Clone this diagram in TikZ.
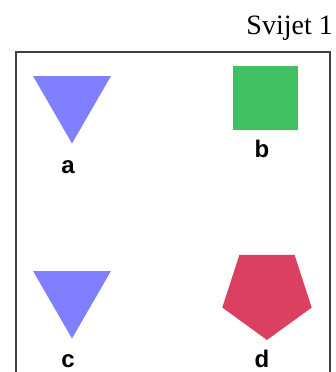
\documentclass[tikz,border=0pt]{standalone}
\usepackage{fontspec}
\setmainfont{Liberation Serif}
\newfontfamily\labelfont{Liberation Sans}
\usetikzlibrary{shapes.geometric}

\definecolor{triblue}{RGB}{128,128,255}
\definecolor{sqgreen}{RGB}{64,192,96}
\definecolor{pentred}{RGB}{220,64,96}

\begin{document}
\begin{tikzpicture}[x=1pt,y=-1pt]
  \tikzstyle{figure}=[inner sep=0pt,outer sep=0pt,draw=none]
  \tikzstyle{tri}=[figure,regular polygon,regular polygon sides=3,shape border rotate=180,minimum size=90pt,fill=triblue]
  \tikzstyle{lab}=[inner sep=0pt,font=\labelfont\bfseries\fontsize{24}{24}\selectfont]
  \useasboundingbox (0,0) rectangle (336,372);
  % frame and title
  \draw[line width=2pt,draw=black!75] (16,380) -- (16,52) -- (330,52) -- (330,380);
  \node[anchor=base east,inner sep=0pt,font=\fontsize{28}{28}\selectfont] (title) at (333,34) {Svijet 1};
  % shapes
  \node[tri] (a) at (72,98.5) {};
  \node[figure,fill=sqgreen,minimum width=65pt,minimum height=64pt] (b) at (265.5,97.5) {};
  \node[tri] (c) at (72,293.5) {};
  \node[figure,regular polygon,regular polygon sides=5,shape border rotate=180,minimum size=94pt,fill=pentred] (d) at (267,293) {};
  % labels
  \node[lab,anchor=base] (la) at (68,173) {a};
  \node[lab,anchor=base] (lb) at (262,157) {b};
  \node[lab,anchor=base] (lc) at (68,367) {c};
  \node[lab,anchor=base] (ld) at (262,367) {d};
\end{tikzpicture}
\end{document}
